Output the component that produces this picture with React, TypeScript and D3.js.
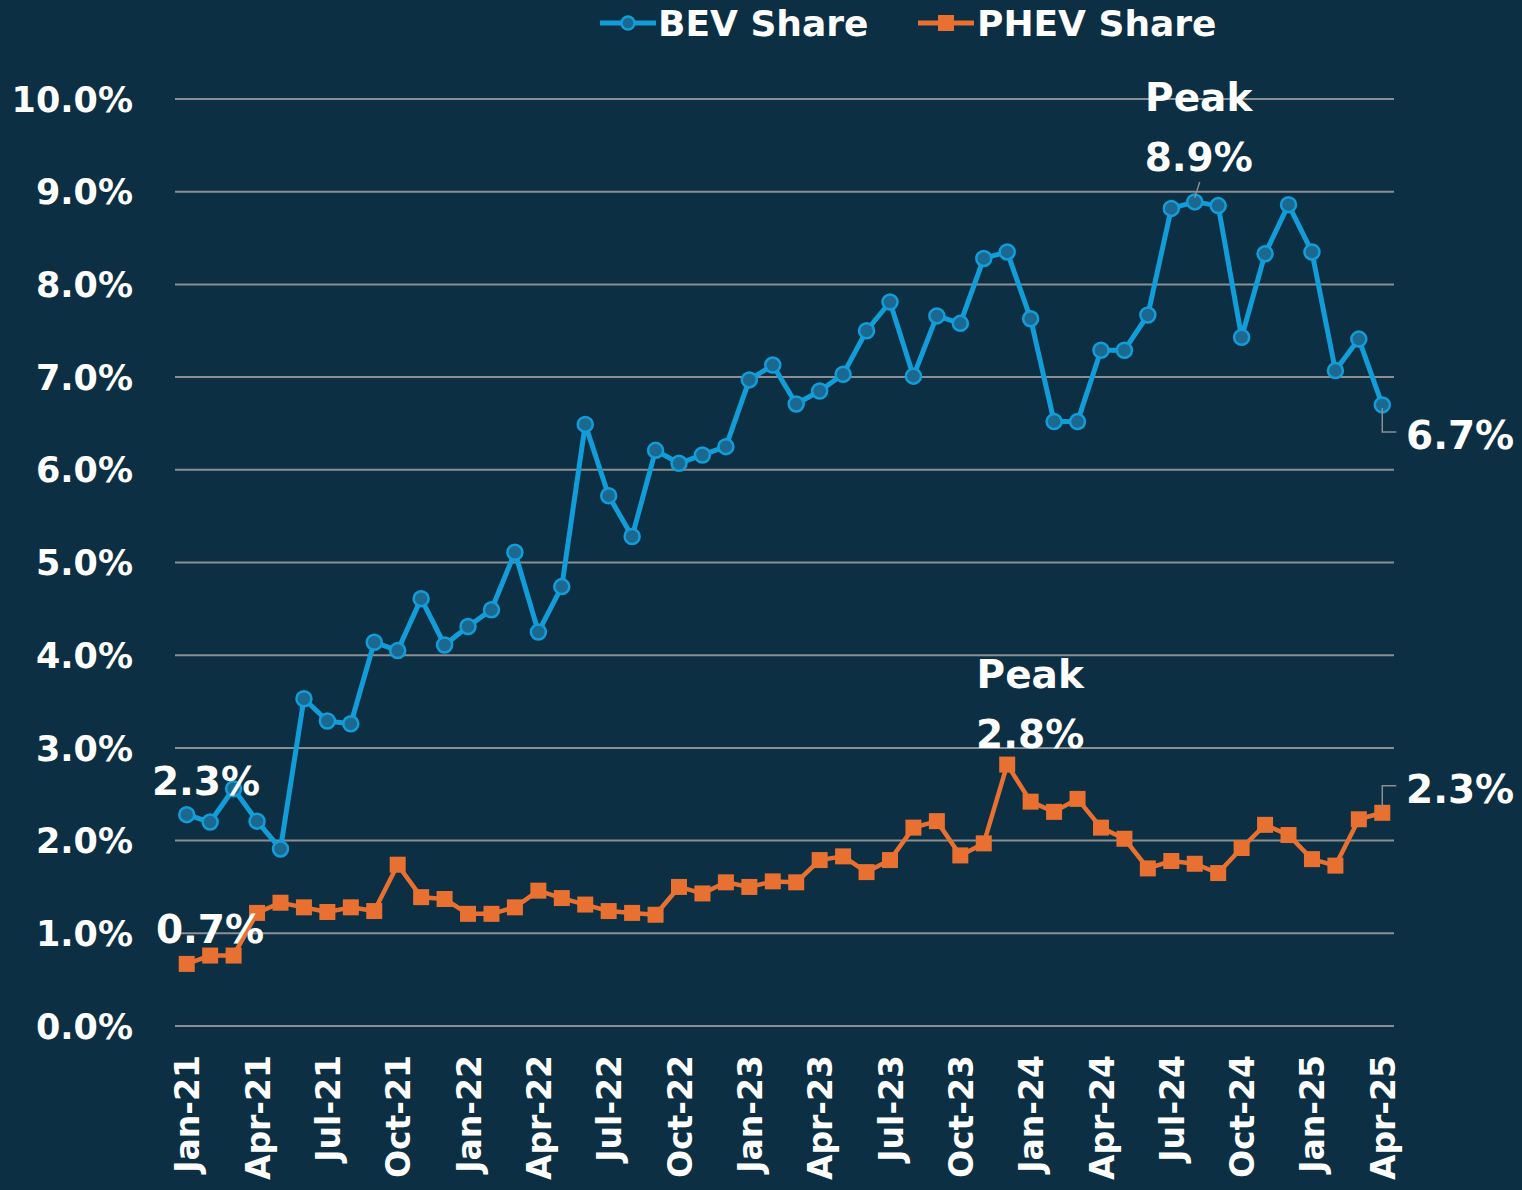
import * as d3 from "d3";

const months = [
  "Jan-21", "Feb-21", "Mar-21", "Apr-21", "May-21", "Jun-21", "Jul-21", "Aug-21", "Sep-21", "Oct-21", "Nov-21", "Dec-21",
  "Jan-22", "Feb-22", "Mar-22", "Apr-22", "May-22", "Jun-22", "Jul-22", "Aug-22", "Sep-22", "Oct-22", "Nov-22", "Dec-22",
  "Jan-23", "Feb-23", "Mar-23", "Apr-23", "May-23", "Jun-23", "Jul-23", "Aug-23", "Sep-23", "Oct-23", "Nov-23", "Dec-23",
  "Jan-24", "Feb-24", "Mar-24", "Apr-24", "May-24", "Jun-24", "Jul-24", "Aug-24", "Sep-24", "Oct-24", "Nov-24", "Dec-24",
  "Jan-25", "Feb-25", "Mar-25", "Apr-25",
];

const bevShare = [
  2.28, 2.2, 2.56, 2.21, 1.91, 3.53, 3.29, 3.26, 4.14, 4.05, 4.61, 4.11,
  4.31, 4.49, 5.11, 4.25, 4.74, 6.49, 5.72, 5.28, 6.21, 6.07, 6.16, 6.25,
  6.97, 7.13, 6.71, 6.85, 7.03, 7.5, 7.81, 7.01, 7.66, 7.58, 8.28, 8.35,
  7.63, 6.52, 6.52, 7.29, 7.29, 7.67, 8.82, 8.89, 8.85, 7.43, 8.33, 8.86,
  8.35, 7.07, 7.41, 6.7,
];

const phevShare = [
  0.67, 0.76, 0.76, 1.22, 1.33, 1.28, 1.23, 1.28, 1.24, 1.74, 1.39, 1.37,
  1.21, 1.21, 1.28, 1.46, 1.38, 1.31, 1.24, 1.22, 1.2, 1.5, 1.43, 1.55,
  1.5, 1.56, 1.55, 1.79, 1.83, 1.66, 1.79, 2.14, 2.21, 1.84, 1.97, 2.82,
  2.42, 2.31, 2.45, 2.14, 2.02, 1.7, 1.78, 1.75, 1.65, 1.92, 2.17, 2.06,
  1.8, 1.73, 2.23, 2.3,
];

const yTicks = [0, 1, 2, 3, 4, 5, 6, 7, 8, 9, 10];
const seriesNames = ["BEV Share", "PHEV Share"];

const W = 1522;
const H = 1190;
const plot = { left: 175, right: 1394, top: 99, bottom: 1026 };

const BG = "#0c2f43";
const BLUE = "#139dd8";
const BLUE_FILL = "#1b6891";
const ORANGE = "#e87131";
const GRID = "#8a8f93";
const FONT = "'DejaVu Sans', sans-serif";

const pct = (v: number) => d3.format(".1f")(v) + "%";

export default function App() {
  const x = d3.scalePoint<string>().domain(months).range([plot.left, plot.right]).padding(0.5);
  const y = d3.scaleLinear().domain([0, 10]).range([plot.bottom, plot.top]);

  const lineGen = d3
    .line<number>()
    .x((_, i) => x(months[i]) as number)
    .y((d) => y(d));

  // every third month gets a label
  const xTickLabels = months.filter((_, i) => i % 3 === 0);

  const last = months.length - 1;
  const bevPeak = d3.maxIndex(bevShare);
  const phevPeak = d3.maxIndex(phevShare);
  const px = (i: number) => x(months[i]) as number;

  const labelStyle = { fontFamily: FONT, fontWeight: 700, fontSize: 39, fill: "#fff" } as const;

  return (
    <svg width={W} height={H} style={{ position: "absolute", left: 0, top: 0, background: BG }}>
      <rect width={W} height={H} fill={BG} />

      {/* grid + y axis */}
      {yTicks.map((t) => (
        <g key={t}>
          <line x1={plot.left} x2={plot.right} y1={y(t)} y2={y(t)} stroke={GRID} strokeWidth={2} />
          <text x={133} y={y(t)} dy="0.36em" textAnchor="end" style={{ ...labelStyle, fontSize: 35 }}>
            {d3.format(".1f")(t) + "%"}
          </text>
        </g>
      ))}

      {/* x axis labels */}
      {xTickLabels.map((m) => (
        <text
          key={m}
          transform={`translate(${x(m)},1055) rotate(-90)`}
          dy="0.38em"
          textAnchor="end"
          style={{ ...labelStyle, fontSize: 33 }}
        >
          {m}
        </text>
      ))}

      {/* lines */}
      <path d={lineGen(phevShare) ?? ""} fill="none" stroke={ORANGE} strokeWidth={4.5} strokeLinejoin="round" />
      {phevShare.map((v, i) => (
        <rect key={i} x={px(i) - 8} y={y(v) - 8} width={16} height={16} fill={ORANGE} />
      ))}
      <path d={lineGen(bevShare) ?? ""} fill="none" stroke={BLUE} strokeWidth={5} strokeLinejoin="round" />
      {bevShare.map((v, i) => (
        <circle key={i} cx={px(i)} cy={y(v)} r={7.5} fill={BLUE_FILL} stroke={BLUE} strokeWidth={2.5} />
      ))}

      {/* annotations */}
      <text x={206} y={y(bevShare[0]) - 20} textAnchor="middle" style={labelStyle}>{pct(bevShare[0])}</text>
      <text x={210} y={y(phevShare[0]) - 21} textAnchor="middle" style={labelStyle}>{pct(phevShare[0])}</text>

      <line x1={px(bevPeak)} y1={y(bevShare[bevPeak]) - 4} x2={px(bevPeak) + 5} y2={y(bevShare[bevPeak]) - 20} stroke={GRID} strokeWidth={1.5} />
      <text x={px(bevPeak) + 4} y={y(bevShare[bevPeak]) - 91} textAnchor="middle" style={labelStyle}>Peak</text>
      <text x={px(bevPeak) + 4} y={y(bevShare[bevPeak]) - 31} textAnchor="middle" style={labelStyle}>{pct(bevShare[bevPeak])}</text>

      <text x={px(phevPeak) + 23} y={y(phevShare[phevPeak]) - 77} textAnchor="middle" style={labelStyle}>Peak</text>
      <text x={px(phevPeak) + 23} y={y(phevShare[phevPeak]) - 17} textAnchor="middle" style={labelStyle}>{pct(phevShare[phevPeak])}</text>

      <polyline
        points={`${px(last)},${y(bevShare[last]) + 3} ${px(last)},${y(bevShare[last]) + 27} ${px(last) + 14},${y(bevShare[last]) + 27}`}
        fill="none" stroke={GRID} strokeWidth={1.5}
      />
      <text x={1406} y={y(bevShare[last]) + 44} style={labelStyle}>{pct(bevShare[last])}</text>

      <polyline
        points={`${px(last)},${y(phevShare[last]) - 4} ${px(last)},${y(phevShare[last]) - 27} ${px(last) + 14},${y(phevShare[last]) - 27}`}
        fill="none" stroke={GRID} strokeWidth={1.5}
      />
      <text x={1406} y={y(phevShare[last]) - 10} style={labelStyle}>{pct(phevShare[last])}</text>

      {/* legend */}
      <g>
        <line x1={600} x2={656} y1={23} y2={23} stroke={BLUE} strokeWidth={5} />
        <circle cx={628} cy={23} r={6.5} fill={BLUE_FILL} stroke={BLUE} strokeWidth={2.5} />
        <text x={658} y={36} style={{ ...labelStyle, fontSize: 36 }}>{seriesNames[0]}</text>
        <line x1={918} x2={974} y1={23} y2={23} stroke={ORANGE} strokeWidth={5} />
        <rect x={938} y={15} width={16} height={16} fill={ORANGE} />
        <text x={977} y={36} style={{ ...labelStyle, fontSize: 36 }}>{seriesNames[1]}</text>
      </g>
    </svg>
  );
}
